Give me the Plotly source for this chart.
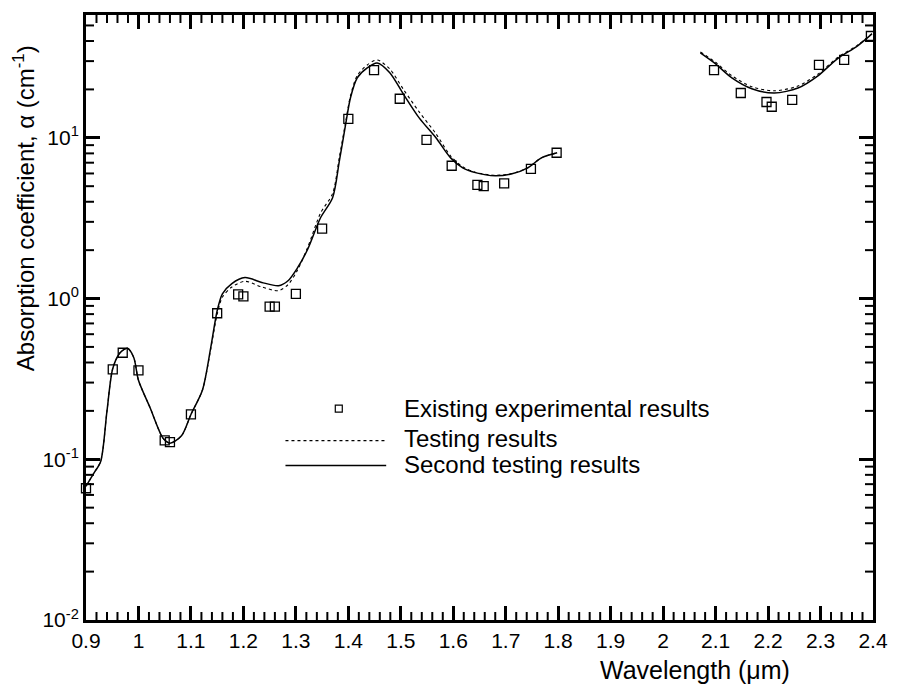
import plotly.graph_objects as go

# Experimental data (wavelength um, absorption coefficient cm^-1)
exp_x = [0.900, 0.951, 0.970, 1.000, 1.050, 1.060, 1.100, 1.150, 1.190, 1.200,
         1.250, 1.260, 1.300, 1.350, 1.400, 1.449, 1.498, 1.549, 1.597, 1.646,
         1.658, 1.697, 1.748, 1.797,
         2.097, 2.148, 2.197, 2.207, 2.246, 2.297, 2.345, 2.396]
exp_y = [0.066, 0.362, 0.46, 0.357, 0.131, 0.128, 0.19, 0.81, 1.06, 1.03,
         0.89, 0.89, 1.07, 2.72, 13.1, 26.4, 17.5, 9.7, 6.7, 5.1,
         5.0, 5.2, 6.4, 8.07,
         26.4, 19.0, 16.7, 15.6, 17.2, 28.4, 30.5, 43.0]

# Second testing results (solid)
sec_x = [0.900, 0.915, 0.928, 0.940, 0.951, 0.965, 0.979, 0.991, 1.000, 1.022,
         1.047, 1.060, 1.082, 1.100, 1.122, 1.138, 1.150, 1.160, 1.178, 1.203,
         1.235, 1.267, 1.285, 1.303, 1.323, 1.347, 1.370, 1.383, 1.395, 1.404,
         1.417, 1.436, 1.455, 1.479, 1.505, 1.535, 1.567, 1.595, 1.618, 1.642,
         1.680, 1.712, 1.742, 1.768, 1.798,
         None,
         2.071, 2.100, 2.131, 2.169, 2.212, 2.257, 2.295, 2.332, 2.370, 2.398]
sec_y = [0.068, 0.082, 0.097, 0.20, 0.367, 0.46, 0.49, 0.43, 0.31, 0.21,
         0.135, 0.126, 0.14, 0.19, 0.27, 0.50, 0.84, 1.07, 1.24, 1.35,
         1.26, 1.20, 1.29, 1.55, 2.04, 3.18, 4.24, 7.2, 12.2, 17.7,
         23.6, 27.2, 29.2, 25.4, 18.7, 13.3, 10.0, 7.5, 6.5, 6.07,
         5.8, 5.97, 6.5, 7.5, 8.07,
         None,
         33.7, 28.8, 23.6, 20.2, 19.0, 20.4, 24.3, 31.0, 37.2, 44.3]

# Testing results (dotted)
test_x = sec_x
test_y = [0.068, 0.082, 0.097, 0.20, 0.367, 0.46, 0.49, 0.43, 0.31, 0.21,
          0.135, 0.126, 0.14, 0.19, 0.27, 0.49, 0.80, 1.02, 1.18, 1.28,
          1.18, 1.12, 1.22, 1.50, 2.10, 3.40, 4.50, 7.6, 12.6, 18.2,
          24.4, 28.4, 30.5, 26.8, 20.0, 14.5, 10.6, 7.7, 6.6, 6.1,
          5.85, 6.0, 6.5, 7.5, 8.07,
          None,
          34.2, 29.5, 24.3, 20.8, 19.6, 21.0, 24.9, 31.5, 37.6, 44.5]

# tick labels / tick positions
x_tickvals = [0.9, 1.0, 1.1, 1.2, 1.3, 1.4, 1.5, 1.6, 1.7, 1.8, 1.9, 2.0, 2.1, 2.2, 2.3, 2.4]
x_ticktext = ["0.9", "1", "1.1", "1.2", "1.3", "1.4", "1.5", "1.6", "1.7", "1.8",
              "1.9", "2", "2.1", "2.2", "2.3", "2.4"]
x_minor_vals = [round(0.9 + 0.02 * i, 2) for i in range(76) if i % 5 != 0]
y_tickvals = [0.01, 0.1, 1, 10]
y_ticktext = ["10<sup>-2</sup>", "10<sup>-1</sup>", "10<sup>0</sup>", "10<sup>1</sup>"]
y_minor_vals = [m * d for d in (0.01, 0.1, 1, 10) for m in range(2, 10) if m * d < 58]

legend_labels = ["Existing experimental results", "Testing results", "Second testing results"]

FONT = "Liberation Sans, Arial, Helvetica, sans-serif"
X_RANGE = [0.9, 2.4]
Y_RANGE = [-2, 1.764]

fig = go.Figure()
fig.add_trace(go.Scatter(x=test_x, y=test_y, mode="lines",
                         line=dict(color="black", width=1.1, dash="dot", shape="spline", smoothing=0.8),
                         connectgaps=False, showlegend=False))
fig.add_trace(go.Scatter(x=sec_x, y=sec_y, mode="lines",
                         line=dict(color="black", width=1.5, shape="spline", smoothing=0.8),
                         connectgaps=False, showlegend=False))
fig.add_trace(go.Scatter(x=exp_x, y=exp_y, mode="markers",
                         marker=dict(symbol="square-open", size=9, color="black", line=dict(width=1.3)),
                         showlegend=False, cliponaxis=False))

L, R, T, B = 86, 17, 13, 67
W, H = 900, 687
pw, ph = W - L - R, H - T - B

def px(xp):
    return (xp - L) / pw

def py(yp):
    return (H - B - yp) / ph

shapes = []
annotations = []
MINOR_LEN, MINOR_W = 8, 2
# minor ticks on bottom and top (inside)
for v in x_minor_vals:
    for anchor, sgn in ((0, 1), (1, -1)):
        shapes.append(dict(type="line", xref="x", yref="paper", ysizemode="pixel", yanchor=anchor,
                           x0=v, x1=v, y0=0, y1=sgn * MINOR_LEN,
                           line=dict(color="black", width=MINOR_W), layer="above"))
# minor ticks on left and right (inside)
for v in y_minor_vals:
    for anchor, sgn in ((0, 1), (1, -1)):
        shapes.append(dict(type="line", xref="paper", yref="y", xsizemode="pixel", xanchor=anchor,
                           x0=0, x1=sgn * MINOR_LEN, y0=v, y1=v,
                           line=dict(color="black", width=MINOR_W), layer="above"))

# legend: square, dotted and solid samples
shapes.append(dict(type="rect", xref="paper", yref="paper", xsizemode="pixel", ysizemode="pixel",
                   xanchor=px(342), yanchor=py(408), x0=-3.5, x1=3.5, y0=-3.5, y1=3.5,
                   line=dict(color="black", width=1.2)))
shapes.append(dict(type="line", xref="paper", yref="paper", x0=px(288), x1=px(390), y0=py(440), y1=py(440),
                   line=dict(color="black", width=1.1, dash="dot")))
shapes.append(dict(type="line", xref="paper", yref="paper", x0=px(288), x1=px(390), y0=py(465), y1=py(465),
                   line=dict(color="black", width=1.5)))
for lab, yy in zip(legend_labels, [408, 438, 464]):
    annotations.append(dict(text=lab, xref="paper", yref="paper", x=px(406), y=py(yy),
                            xanchor="left", yanchor="middle", showarrow=False,
                            font=dict(family=FONT, size=24, color="black")))

annotations.append(dict(text="Wavelength (μm)", xref="paper", yref="paper", x=px(703), y=py(670),
                        xanchor="center", yanchor="middle", showarrow=False,
                        font=dict(family=FONT, size=25, color="black")))
annotations.append(dict(text="Absorption coefficient, α (cm<sup>-1</sup>)", xref="paper", yref="paper",
                        x=px(24), y=py(207), xanchor="center", yanchor="middle", textangle=-90,
                        showarrow=False, font=dict(family=FONT, size=24, color="black")))

common = dict(showline=True, linewidth=3, linecolor="black", mirror="ticks",
              showgrid=False, zeroline=False, tickcolor="black", ticks="inside")

fig.update_layout(
    width=W, height=H,
    margin=dict(l=L, r=R, t=T, b=B),
    paper_bgcolor="white", plot_bgcolor="white",
    font=dict(family=FONT, size=21, color="black"),
    shapes=shapes, annotations=annotations,
    xaxis=dict(range=X_RANGE, tickmode="array", tickvals=x_tickvals, ticktext=x_ticktext,
               ticklen=14, tickwidth=3, tickfont=dict(family=FONT, size=21, color="black"), **common),
    yaxis=dict(type="log", range=Y_RANGE, tickmode="array", tickvals=y_tickvals, ticktext=y_ticktext,
               ticklen=14, tickwidth=3, tickfont=dict(family=FONT, size=21, color="black"), **common),
)

fig.write_html("out.html")
